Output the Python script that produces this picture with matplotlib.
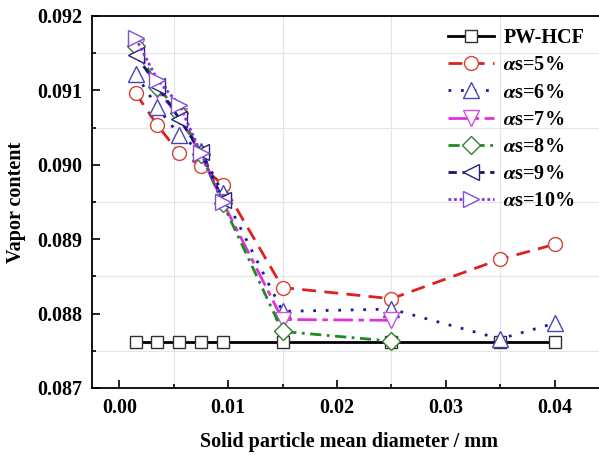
import matplotlib
matplotlib.use("Agg")
import matplotlib.pyplot as plt
from matplotlib.ticker import MultipleLocator, FormatStrFormatter

plt.rcParams['font.family'] = ['Liberation Serif', 'DejaVu Serif']
plt.rcParams['font.weight'] = 'bold'
plt.rcParams['mathtext.fontset'] = 'stix'

# data
x_small = [0.0015, 0.0035, 0.0055, 0.0075, 0.0095]
x_mid = x_small + [0.015, 0.025]
x_all = x_mid + [0.035, 0.040]

pw_hcf = [0.08762] * 9
s5 = [0.09096, 0.09053, 0.09016, 0.08999, 0.08973, 0.08835, 0.08820, 0.08873, 0.08893]
s6 = [0.09122, 0.09077, 0.09040, 0.09018, 0.08962, 0.08803, 0.08806, 0.08766, 0.08787]
s7 = [0.09158, 0.09100, 0.09065, 0.09013, 0.08950, 0.08792, 0.08791]
s8 = [0.09160, 0.09105, 0.09070, 0.09015, 0.08948, 0.08776, 0.08763]
s9 = [0.09148, 0.09106, 0.09062, 0.09017, 0.08953]
s10 = [0.09170, 0.09114, 0.09081, 0.09016, 0.08950]

labels = ['PW-HCF', r'$\alpha$s=5%', r'$\alpha$s=6%', r'$\alpha$s=7%',
          r'$\alpha$s=8%', r'$\alpha$s=9%', r'$\alpha$s=10%']

fig = plt.figure(figsize=(5.99, 4.59), dpi=100)
ax = fig.add_axes([0.153, 0.1547, 0.86, 0.8105])

ms = 10
ax.plot(x_all, pw_hcf, color='black', lw=2, marker='s', ms=8.5, mfc='white', mec='#303030', mew=1.0, label=labels[0], zorder=3)
ax.plot(x_all, s5, color='#e02020', lw=2, ls=(0, (5, 3)), marker='o', ms=ms, mfc='white', mec='#d04535', mew=1.0, label=labels[1], zorder=4)
ax.plot(x_all, s6, color='#1a1aa0', lw=2, ls=(0, (1, 3.5)), marker='^', ms=11, mfc='white', mec='#4545b5', mew=1.0, label=labels[2], zorder=5)
ax.plot(x_mid, s7, color='#e030e0', lw=2, ls=(0, (7, 2, 2, 2)), marker='v', ms=11, mfc='white', mec='#d050e0', mew=1.0, label=labels[3], zorder=5)
ax.plot(x_mid, s8, color='#208a20', lw=2, ls=(0, (4, 2, 1, 2)), marker='D', ms=9, mfc='white', mec='#308030', mew=1.0, label=labels[4], zorder=5)
ax.plot(x_small, s9, color='#151570', lw=2, ls=(0, (3, 2)), marker='<', ms=11, mfc='white', mec='#252580', mew=1.0, label=labels[5], zorder=6)
ax.plot(x_small, s10, color='#8a30e0', lw=2, ls=(0, (1, 1)), marker='>', ms=11, mfc='white', mec='#8050d8', mew=1.0, label=labels[6], zorder=6)

ax.set_xlim(-0.00255, 0.0448)
ax.set_ylim(0.087, 0.092)
ax.xaxis.set_major_locator(MultipleLocator(0.01))
ax.xaxis.set_minor_locator(MultipleLocator(0.005))
ax.yaxis.set_major_locator(MultipleLocator(0.001))
ax.yaxis.set_minor_locator(MultipleLocator(0.0005))
ax.xaxis.set_major_formatter(FormatStrFormatter('%.2f'))
ax.yaxis.set_major_formatter(FormatStrFormatter('%.3f'))
ax.tick_params(which='both', direction='in', top=False, right=False, width=1.2, labelsize=14.5)
ax.tick_params(axis='x', pad=7)
ax.tick_params(axis='y', pad=7)
ax.tick_params(which='major', length=6)
ax.tick_params(which='minor', length=3)
for lab in ax.get_xticklabels() + ax.get_yticklabels():
    lab.set_fontweight('bold')

ax.grid(True, which='minor', color='#e4e4e4', lw=0.8, ls='-')
ax.set_axisbelow(True)
ax.spines['right'].set_visible(False)
for sp in ['left', 'bottom', 'top']:
    ax.spines[sp].set_linewidth(1.3)

ax.set_xlabel('Solid particle mean diameter / mm', fontsize=14.5, fontweight='bold', labelpad=10)
ax.set_ylabel('Vapor content', fontsize=14.5, fontweight='bold', labelpad=8)

leg = fig.legend(loc='upper left', bbox_to_anchor=(448 / 599, 1 - 28 / 459),
                 bbox_transform=fig.transFigure, frameon=False,
                 handlelength=2.3, labelspacing=0.36, handletextpad=0.45,
                 borderaxespad=0, borderpad=0,
                 prop={'weight': 'bold', 'size': 14.5})

fig.savefig('out.png', dpi=100)
